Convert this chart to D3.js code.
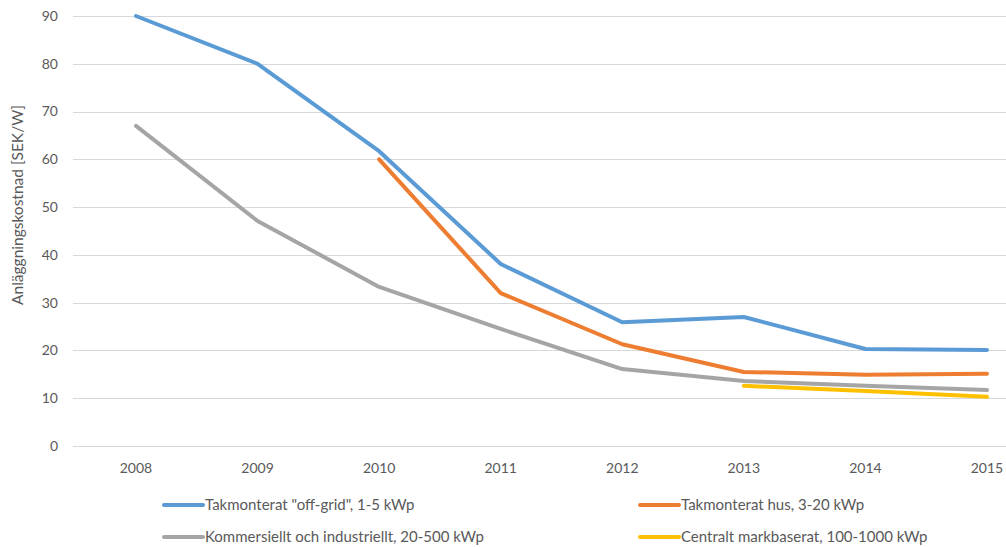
<!DOCTYPE html>
<meta charset="utf-8">
<head>
  <title>Anläggningskostnad</title>
</head>

<style>
body {
  margin: 0;
  background: #fff;
  font-family: Lato, "Open Sans", sans-serif;
}
text {
  fill: #595959;
}
.grid line {
  stroke: #d9d9d9;
  stroke-width: 1;
}
.series {
  fill: none;
  stroke-width: 4;
  stroke-linejoin: round;
  stroke-linecap: round;
}
</style>

<body>
  <svg width="1006" height="547"></svg>

  <script src="https://cdnjs.cloudflare.com/ajax/libs/d3/7.8.5/d3.min.js"></script>

  <script>
  var years = ['2008', '2009', '2010', '2011', '2012', '2013', '2014', '2015'];
  var yTicks = [0, 10, 20, 30, 40, 50, 60, 70, 80, 90];

  var offGrid    = [90, 80, 61.7, 38.1, 25.9, 27.0, 20.3, 20.1];
  var husTak     = [null, null, 60, 32.0, 21.3, 15.5, 14.9, 15.1];
  var kommersiel = [67, 47.1, 33.3, 24.5, 16.1, 13.6, 12.6, 11.7];
  var markbaser  = [null, null, null, null, null, 12.6, 11.5, 10.3];

  var series = [
    { name: 'Takmonterat "off-grid", 1-5 kWp', values: offGrid, color: '#5b9bd5' },
    { name: 'Takmonterat hus, 3-20 kWp', values: husTak, color: '#ed7d31' },
    { name: 'Kommersiellt och industriellt, 20-500 kWp', values: kommersiel, color: '#a5a5a5' },
    { name: 'Centralt markbaserat, 100-1000 kWp', values: markbaser, color: '#ffc000' }
  ];

  var svg = d3.select('svg');

  var x = d3.scalePoint()
    .domain(years)
    .range([136, 987]);

  var y = d3.scaleLinear()
    .domain([0, 90])
    .range([446, 16]);

  // gridlines
  svg.append('g')
    .attr('class', 'grid')
    .selectAll('line')
    .data(yTicks)
    .enter()
    .append('line')
    .attr('x1', 73)
    .attr('x2', 1006)
    .attr('y1', function(d) { return Math.round(y(d)) + 0.5; })
    .attr('y2', function(d) { return Math.round(y(d)) + 0.5; });

  // y tick labels
  svg.append('g')
    .selectAll('text')
    .data(yTicks)
    .enter()
    .append('text')
    .attr('x', 58)
    .attr('y', function(d) { return y(d); })
    .attr('dy', '0.35em')
    .attr('text-anchor', 'end')
    .style('font-size', '14px')
    .text(function(d) { return d; });

  // x tick labels
  svg.append('g')
    .selectAll('text')
    .data(years)
    .enter()
    .append('text')
    .attr('x', function(d) { return x(d); })
    .attr('y', 473)
    .attr('text-anchor', 'middle')
    .style('font-size', '14px')
    .text(function(d) { return d; });

  // axis title
  svg.append('text')
    .attr('transform', 'translate(23, 205) rotate(-90)')
    .attr('text-anchor', 'middle')
    .style('font-size', '15.5px')
    .text('Anläggningskostnad [SEK/W]');

  var line = d3.line()
    .defined(function(d) { return d != null; })
    .x(function(d, i) { return x(years[i]); })
    .y(function(d) { return y(d); });

  svg.append('g')
    .selectAll('path')
    .data(series)
    .enter()
    .append('path')
    .attr('class', 'series')
    .attr('stroke', function(d) { return d.color; })
    .attr('d', function(d) { return line(d.values); });

  // legend
  var legend = svg.append('g')
    .selectAll('g')
    .data(series)
    .enter()
    .append('g')
    .attr('transform', function(d, i) {
      return 'translate(' + (i % 2 === 0 ? 164 : 640) + ', ' + (i < 2 ? 505 : 537) + ')';
    });

  legend.append('line')
    .attr('x1', 0)
    .attr('x2', 39)
    .attr('stroke', function(d) { return d.color; })
    .attr('stroke-width', 4)
    .attr('stroke-linecap', 'round');

  legend.append('text')
    .attr('x', 41)
    .attr('dy', '0.35em')
    .style('font-size', '15px')
    .text(function(d) { return d.name; });

  </script>
</body>
</html>
